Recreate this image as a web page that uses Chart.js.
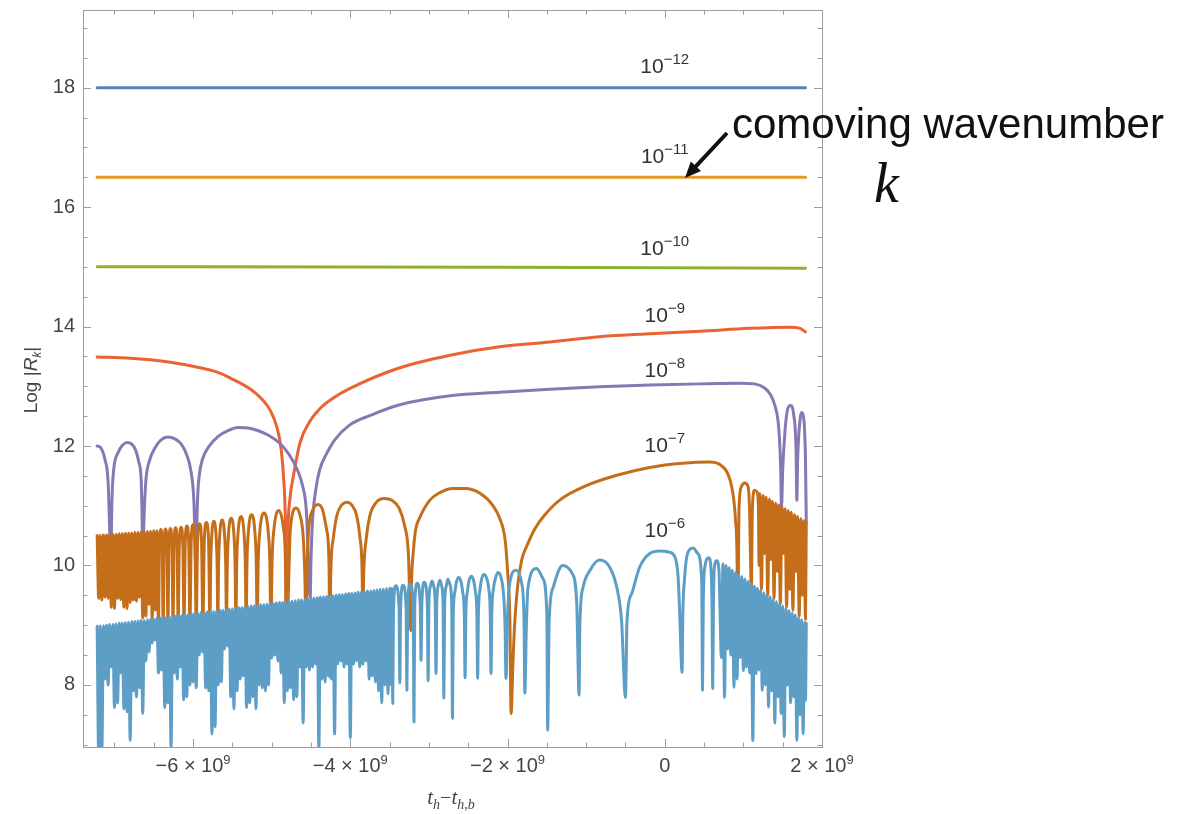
<!DOCTYPE html>
<html><head><meta charset="utf-8">
<script src="https://cdn.jsdelivr.net/npm/chart.js@4.4.1/dist/chart.umd.min.js"></script>
<style>html,body{margin:0;padding:0;background:#fff;}canvas{display:block;}</style>
</head><body>
<canvas id="c" width="1178" height="814"></canvas>
<script>
// x: t_h - t_{h,b} in units of 1e9 ; y: Log|R_k|
const kExponents = ['−12','−11','−10','−9','−8','−7','−6'];
const kLabelAnchors = [[0,18.25],[0,16.74],[0,15.20],[0,14.08],[0,13.16],[0,11.90],[0,10.48]];
const xTickValues = [-6,-4,-2,0,2];
const xTickLabels = [['−6 × 10','9'],['−4 × 10','9'],['−2 × 10','9'],['0',''],['2 × 10','9']];
const xMinorTicks = [-7,-6.5,-5.5,-5,-4.5,-3.5,-3,-2.5,-1.5,-1,-0.5,0.5,1,1.5];
const yTickValues = [8,10,12,14,16,18];
const yTickLabels = ['8','10','12','14','16','18'];
const yMinorTicks = [7,7.5,8.5,9,9.5,10.5,11,11.5,12.5,13,13.5,14.5,15,15.5,16.5,17,17.5,18.5,19];

const k12 = [[-7.22,18],[-4,18],[-1,18],[1.79,18]];
const k11 = [[-7.22,16.5],[-4,16.5],[-1,16.5],[1.79,16.5]];
const k10 = [[-7.22,15.0],[-4,14.998],[-2,14.993],[0,14.985],[1.79,14.975]];
const k9 = [[-7.22,13.49],[-6.80,13.47],[-6.33,13.41],[-5.91,13.31],[-5.70,13.24],[-5.53,13.14],[-5.21,12.89],[-5.02,12.60],[-4.93,12.30],[-4.88,11.95],[-4.85,11.50],[-4.825,10.7],[-4.81,9.0],[-4.795,10.5],[-4.77,11.09],[-4.73,11.45],[-4.64,12.05],[-4.52,12.40],[-4.39,12.62],[-4.22,12.80],[-4.01,12.96],[-3.37,13.31],[-2.73,13.52],[-2.10,13.66],[-1.46,13.74],[-0.83,13.83],[-0.19,13.88],[0.45,13.92],[1.08,13.97],[1.59,13.99],[1.72,13.97],[1.79,13.91]];
const k8 = [[-7.22,12.00],[-7.18,11.98],[-7.12,11.77],[-7.08,11.38],[-7.06,10.55],[-7.05,10.0],
[-7.03,11.17],[-7.01,11.60],[-6.95,11.90],[-6.90,12.01],[-6.84,12.06],[-6.78,12.03],[-6.73,11.93],[-6.69,11.73],[-6.66,11.43],[-6.65,10.93],[-6.64,10.2],
[-6.62,10.93],[-6.60,11.43],[-6.55,11.77],[-6.48,11.98],[-6.41,12.10],[-6.32,12.15],[-6.23,12.12],[-6.15,12.03],[-6.08,11.85],[-6.03,11.60],[-5.99,11.09],[-5.96,9.84],
[-5.95,10.76],[-5.94,11.20],[-5.92,11.52],[-5.88,11.78],[-5.80,11.99],[-5.68,12.16],[-5.55,12.26],[-5.43,12.31],[-5.30,12.30],[-5.18,12.26],[-5.04,12.18],[-4.90,12.05],[-4.78,11.86],[-4.68,11.62],[-4.61,11.35],[-4.56,10.93],[-4.51,9.47],
[-4.50,10.09],[-4.48,10.76],[-4.44,11.26],[-4.39,11.60],[-4.31,11.85],[-4.20,12.10],[-4.01,12.35],[-3.75,12.51],[-3.37,12.69],[-2.73,12.84],[-2.10,12.90],[-1.46,12.95],[-0.83,12.99],[-0.19,13.02],[0.45,13.04],[0.95,13.05],[1.14,13.04],[1.27,12.97],[1.35,12.85],[1.40,12.68],[1.44,12.43],[1.46,12.10],[1.475,11.60],[1.485,10.97],
[1.50,11.59],[1.53,12.26],[1.56,12.60],[1.60,12.68],[1.64,12.52],[1.67,11.93],[1.68,11.09],
[1.69,11.76],[1.72,12.43],[1.74,12.56],[1.77,12.43],[1.79,11.76],[1.80,10.71]];
const k7 = [[-7.22,10.50],[-7.20,9.45],[-7.18,10.50],[-7.16,9.42],[-7.14,10.51],[-7.12,9.47],[-7.10,10.51],[-7.08,9.45],[-7.06,10.51],[-7.04,9.30],[-7.02,10.52],[-7.00,9.28],[-6.98,10.52],[-6.96,9.45],[-6.94,10.53],[-6.92,9.43],[-6.90,10.53],[-6.88,9.30],[-6.86,10.54],[-6.84,9.28],[-6.82,10.54],[-6.80,9.38],[-6.78,10.54],[-6.76,9.42],[-6.74,10.55],[-6.72,9.40],[-6.70,10.55],[-6.68,9.47],[-6.66,10.56],[-6.64,9.12],[-6.62,10.56],[-6.60,9.15],[-6.58,10.57],[-6.56,9.35],[-6.54,10.57],[-6.52,9.12],[-6.50,10.58],[-6.48,9.25],[-6.46,10.58],
[-6.44,9.0],[-6.428,10.30],[-6.41,10.60],[-6.392,10.30],[-6.38,9.0],[-6.368,10.31],[-6.35,10.61],[-6.332,10.31],[-6.32,9.0],[-6.307,10.32],[-6.288,10.62],[-6.268,10.32],[-6.255,9.0],[-6.242,10.33],[-6.222,10.63],[-6.203,10.33],[-6.19,9.0],[-6.175,10.34],[-6.152,10.64],[-6.13,10.34],[-6.115,9.0],[-6.10,10.36],[-6.078,10.66],[-6.055,10.36],[-6.04,9.0],[-6.024,10.38],[-6.00,10.68],[-5.976,10.38],[-5.96,9.0],[-5.943,10.40],[-5.918,10.70],[-5.892,10.40],[-5.875,9.0],[-5.857,10.42],[-5.83,10.72],[-5.803,10.42],[-5.785,9.0],
[-5.777,9.94],[-5.765,10.44],[-5.735,10.74],[-5.705,10.44],[-5.693,9.94],[-5.685,9.0],[-5.676,9.96],[-5.663,10.46],[-5.63,10.76],[-5.597,10.46],[-5.584,9.96],[-5.575,9.0],[-5.565,9.99],[-5.551,10.49],[-5.515,10.79],[-5.479,10.49],[-5.465,9.99],[-5.455,9.0],[-5.445,10.02],[-5.429,10.52],[-5.39,10.82],[-5.351,10.52],[-5.335,10.02],[-5.325,9.0],[-5.314,10.05],[-5.297,10.55],[-5.255,10.85],[-5.213,10.55],[-5.196,10.05],[-5.185,9.0],[-5.171,10.08],[-5.15,10.58],[-5.098,10.88],[-5.045,10.58],[-5.024,10.08],[-5.01,9.0],[-4.994,10.12],[-4.97,10.62],[-4.91,10.92],[-4.85,10.62],[-4.826,10.12],[-4.81,8.24],
[-4.79,9.42],[-4.77,10.42],[-4.74,10.84],[-4.69,10.96],[-4.64,10.84],[-4.60,10.50],[-4.58,9.92],[-4.56,8.91],[-4.55,9.92],[-4.53,10.59],[-4.48,10.92],[-4.41,11.02],[-4.35,10.92],[-4.30,10.59],[-4.27,10.00],[-4.26,8.13],[-4.25,9.75],[-4.22,10.42],[-4.17,10.84],[-4.11,11.01],[-4.04,11.06],[-3.98,11.01],[-3.92,10.84],[-3.88,10.50],[-3.85,9.92],[-3.84,9.08],[-3.83,9.83],[-3.80,10.42],[-3.75,10.84],[-3.68,11.04],[-3.57,11.12],[-3.47,11.09],[-3.38,10.96],[-3.31,10.67],[-3.26,10.17],[-3.23,8.91],[-3.22,9.75],[-3.20,10.20],[-3.17,10.59],[-3.12,10.79],[-2.99,11.09],[-2.86,11.22],[-2.70,11.29],[-2.54,11.29],[-2.35,11.21],[-2.19,11.01],[-2.10,10.79],[-2.03,10.42],[-2.00,9.92],[-1.97,9.08],[-1.955,7.52],[-1.93,8.41],[-1.91,9.00],[-1.87,9.67],[-1.82,10.09],[-1.75,10.34],[-1.65,10.62],[-1.53,10.84],[-1.34,11.09],[-0.99,11.34],[-0.61,11.51],[-0.19,11.64],[0.23,11.71],[0.57,11.73],[0.70,11.69],[0.80,11.54],[0.86,11.26],[0.90,10.76],[0.92,10.09],[0.928,8.9],[0.945,10.98],[0.975,11.32],[1.017,11.38],[1.06,11.32],[1.08,10.87],[1.093,9.97],[1.10,9.5],[1.115,10.98],[1.144,11.26],[1.174,11.23],[1.191,10.98],[1.20,10.0],
[1.21,11.20],[1.23,9.6],[1.25,11.17],[1.27,10.2],[1.29,11.14],[1.31,9.5],[1.33,11.11],[1.35,10.1],[1.37,11.07],[1.39,9.45],[1.41,11.04],[1.43,9.9],[1.45,11.01],[1.47,9.35],[1.49,10.98],[1.51,10.2],[1.53,10.95],[1.55,9.3],[1.57,10.92],[1.59,9.6],[1.61,10.89],[1.63,9.25],[1.65,10.85],[1.67,9.9],[1.69,10.82],[1.71,9.15],[1.73,10.78],[1.75,9.5],[1.77,10.75],[1.79,9.1],[1.80,10.71]];
const k6 = [[-7.22,8.98],[-7.20,6.8],[-7.18,8.99],[-7.16,6.9],[-7.14,8.99],[-7.12,8.1],[-7.10,9.00],[-7.08,8.0],[-7.06,9.01],[-7.04,8.3],[-7.02,9.01],[-7.00,7.62],[-6.98,9.02],[-6.96,7.7],[-6.94,9.03],[-6.92,8.2],[-6.90,9.03],[-6.88,7.6],[-6.86,9.04],[-6.84,7.55],[-6.82,9.05],[-6.80,7.07],[-6.78,9.06],[-6.76,7.9],[-6.74,9.06],[-6.72,7.8],[-6.70,9.07],[-6.68,7.95],[-6.66,9.08],[-6.64,7.52],[-6.62,9.08],[-6.60,8.4],[-6.58,9.09],[-6.56,8.55],[-6.54,9.10],[-6.52,8.7],[-6.50,9.10],[-6.48,8.75],[-6.46,9.11],[-6.44,8.2],[-6.42,9.12],[-6.40,8.25],[-6.38,9.12],[-6.36,7.62],[-6.34,9.13],[-6.32,7.7],[-6.30,9.14],[-6.28,6.95],[-6.26,9.14],[-6.24,8.2],[-6.22,9.15],[-6.20,8.1],[-6.18,9.16],[-6.16,8.3],[-6.14,9.16],[-6.12,7.75],[-6.10,9.17],[-6.08,7.8],[-6.06,9.18],[-6.04,8.0],[-6.02,9.19],[-6.00,8.05],[-5.98,9.19],[-5.96,7.95],[-5.94,9.20],[-5.92,8.5],[-5.90,9.21],[-5.88,8.55],[-5.86,9.21],[-5.84,7.95],[-5.82,9.22],[-5.80,7.9],[-5.78,9.23],[-5.76,7.18],[-5.74,9.23],[-5.72,7.3],[-5.70,9.24],[-5.68,8.0],[-5.66,9.25],[-5.64,8.05],[-5.62,9.25],[-5.60,8.6],[-5.58,9.26],[-5.56,8.65],[-5.54,9.27],[-5.52,7.8],[-5.50,9.27],[-5.48,7.6],[-5.46,9.28],[-5.44,7.9],[-5.42,9.29],[-5.40,8.1],[-5.38,9.29],[-5.36,8.15],[-5.34,9.30],[-5.32,7.62],[-5.30,9.31],[-5.28,7.7],[-5.26,9.32],[-5.24,7.8],[-5.22,9.32],[-5.20,7.6],[-5.18,9.33],[-5.16,8.0],[-5.14,9.34],[-5.12,7.95],[-5.10,9.34],[-5.08,7.9],[-5.06,9.35],[-5.04,8.0],[-5.02,9.36],[-5.00,8.45],[-4.98,9.36],[-4.96,8.5],[-4.94,9.37],[-4.92,8.4],[-4.90,9.38],[-4.88,8.2],[-4.86,9.38],[-4.84,7.7],[-4.82,9.39],[-4.80,7.9],[-4.78,9.40],[-4.76,7.95],[-4.74,9.40],[-4.72,7.75],[-4.70,9.41],[-4.68,7.8],[-4.66,9.42],[-4.64,8.3],[-4.62,9.42],[-4.60,7.36],[-4.58,9.43],[-4.56,8.3],[-4.54,9.44],[-4.52,8.25],[-4.50,9.45],[-4.48,8.3],[-4.46,9.45],[-4.44,8.35],[-4.42,9.46],[-4.40,6.95],[-4.38,9.47],[-4.36,8.1],[-4.34,9.47],[-4.32,8.05],[-4.30,9.48],[-4.28,8.15],[-4.26,9.49],[-4.24,8.1],[-4.22,9.49],[-4.20,7.18],[-4.18,9.50],[-4.16,8.35],[-4.14,9.51],[-4.12,8.4],[-4.10,9.51],[-4.08,8.3],[-4.06,9.52],[-4.04,8.35],[-4.02,9.53],[-4.00,7.12],[-3.98,9.53],[-3.96,8.35],[-3.94,9.54],[-3.92,8.4],[-3.90,9.55],[-3.88,8.3],[-3.86,9.55],[-3.84,8.35],[-3.82,9.56],[-3.80,8.4],[-3.78,9.57],[-3.76,8.1],[-3.74,9.57],[-3.72,8.15],[-3.70,9.58],[-3.68,8.05],[-3.66,9.59],[-3.64,7.9],[-3.62,9.60],[-3.60,7.7],[-3.58,9.60],[-3.56,8.0],[-3.54,9.61],[-3.52,7.85],[-3.50,9.62],[-3.48,8.0],[-3.47,9.62],
[-3.46,7.69],[-3.45,9.30],[-3.42,9.66],[-3.38,9.30],[-3.37,8.03],[-3.36,9.30],[-3.33,9.67],[-3.29,9.30],[-3.28,7.91],[-3.27,9.32],[-3.24,9.69],[-3.20,9.32],[-3.19,7.38],[-3.18,9.33],[-3.15,9.70],[-3.11,9.33],[-3.10,8.41],[-3.09,9.35],[-3.06,9.72],[-3.02,9.35],[-3.01,8.07],
[-3.00,9.35],[-2.98,9.66],[-2.96,9.74],[-2.94,9.66],[-2.92,9.35],[-2.91,8.19],[-2.90,9.36],[-2.88,9.67],[-2.86,9.75],[-2.84,9.67],[-2.82,9.36],[-2.81,7.78],[-2.80,9.35],[-2.78,9.65],[-2.76,9.77],[-2.73,9.67],[-2.71,9.35],[-2.70,7.44],
[-2.69,9.2],[-2.67,9.55],[-2.65,9.72],[-2.62,9.80],[-2.59,9.72],[-2.57,9.55],[-2.55,9.2],[-2.54,8.12],[-2.53,9.2],[-2.51,9.57],[-2.49,9.74],[-2.46,9.82],[-2.43,9.74],[-2.41,9.57],[-2.39,9.2],[-2.38,8.11],[-2.37,9.2],[-2.35,9.6],[-2.33,9.77],[-2.30,9.85],[-2.27,9.80],[-2.24,9.62],[-2.22,9.2],[-2.21,8.19],[-2.20,9.2],[-2.18,9.6],[-2.15,9.8],[-2.12,9.88],[-2.09,9.83],[-2.06,9.64],[-2.04,9.3],[-2.03,8.9],[-2.02,8.11],
[-2.00,9.1],[-1.98,9.63],[-1.89,9.92],[-1.82,9.70],[-1.79,9.08],[-1.78,7.86],[-1.76,9.0],[-1.74,9.63],[-1.63,9.95],[-1.55,9.78],[-1.50,9.2],[-1.49,7.24],[-1.47,9.08],[-1.42,9.63],[-1.30,10.0],[-1.18,9.87],[-1.12,9.37],[-1.09,7.83],[-1.08,9.0],[-1.04,9.63],[-0.95,9.92],[-0.83,10.09],[-0.70,9.97],[-0.61,9.63],[-0.55,9.08],[-0.50,7.79],
[-0.48,9.08],[-0.42,9.53],[-0.32,9.97],[-0.19,10.2],[-0.06,10.24],[0.06,10.22],[0.13,10.14],[0.17,9.8],[0.19,9.2],[0.22,8.21],[0.23,9.2],[0.25,9.75],[0.29,10.2],[0.36,10.29],[0.42,10.2],[0.47,9.75],[0.48,7.91],[0.49,9.4],[0.51,9.97],[0.56,10.13],[0.59,9.9],[0.60,9.4],[0.61,7.94],[0.62,9.4],[0.63,9.95],[0.66,10.08],[0.69,9.9],[0.70,9.4],[0.72,8.46],
[0.74,10.03],[0.76,7.79],[0.78,10.00],[0.80,8.6],[0.82,9.96],[0.84,8.5],[0.86,9.92],[0.88,7.96],[0.90,9.88],[0.92,8.1],[0.94,9.84],[0.96,8.46],[0.98,9.81],[1.00,8.24],[1.02,9.77],[1.04,8.3],[1.06,9.73],[1.08,8.2],[1.10,9.69],[1.12,7.07],[1.14,9.65],[1.16,8.19],[1.18,9.62],[1.20,8.25],[1.22,9.58],[1.24,7.91],[1.26,9.54],[1.28,8.0],[1.30,9.50],[1.32,7.63],[1.34,9.47],[1.36,7.9],[1.38,9.43],[1.40,7.36],[1.42,9.39],[1.44,7.8],[1.46,9.35],[1.48,7.52],[1.50,9.32],[1.52,7.13],[1.54,9.28],[1.56,8.0],[1.58,9.24],[1.60,7.7],[1.62,9.20],[1.64,7.8],[1.66,9.17],[1.68,7.07],[1.70,9.13],[1.72,7.5],[1.74,9.09],[1.76,7.18],[1.78,9.05],[1.79,7.74],[1.80,9.03]];

const series = [k12,k11,k10,k9,k8,k7,k6];
const colors = ['#5E81B5','#E19C24','#8FB032','#EB6235','#8778B3','#C56E1A','#5D9EC7'];

const SANS = '"Liberation Sans", Arial, sans-serif';
const SERIF = '"Liberation Serif", "Times New Roman", serif';

function drawRuns(ctx, runs, cx, by, align) {
  let total = 0;
  runs.forEach(r => { ctx.font = r.f; r.w = ctx.measureText(r.t).width; total += r.w; });
  let x = align === 'center' ? cx - total/2 : (align === 'right' ? cx - total : cx);
  ctx.textAlign = 'left'; ctx.textBaseline = 'alphabetic';
  runs.forEach(r => { ctx.font = r.f; ctx.fillText(r.t, x, by + (r.dy||0)); x += r.w; });
}

const overlay = {
  id: 'overlay',
  afterDraw(chart) {
    const {ctx, chartArea: a, scales: {x, y}} = chart;
    ctx.save();
    ctx.strokeStyle = '#9d9d9d'; ctx.lineWidth = 1;
    ctx.strokeRect(Math.round(a.left)+0.5, Math.round(a.top)+0.5, Math.round(a.right-a.left), Math.round(a.bottom-a.top));
    ctx.beginPath();
    const xt = (v, len) => { const p = Math.round(x.getPixelForValue(v))+0.5;
      ctx.moveTo(p, a.bottom); ctx.lineTo(p, a.bottom-len); ctx.moveTo(p, a.top); ctx.lineTo(p, a.top+len); };
    const yt = (v, len) => { const p = Math.round(y.getPixelForValue(v))+0.5;
      ctx.moveTo(a.left, p); ctx.lineTo(a.left+len, p); ctx.moveTo(a.right, p); ctx.lineTo(a.right-len, p); };
    xTickValues.forEach(v => xt(v, 8)); xMinorTicks.forEach(v => xt(v, 4.5));
    yTickValues.forEach(v => yt(v, 8)); yMinorTicks.forEach(v => yt(v, 4.5));
    ctx.stroke();
    ctx.fillStyle = '#444';
    xTickValues.forEach((v, i) => {
      const [m, e] = xTickLabels[i];
      const runs = [{t: m, f: '20px ' + SANS}];
      if (e) runs.push({t: e, f: '13px ' + SANS, dy: -8});
      drawRuns(ctx, runs, x.getPixelForValue(v), 772, 'center');
    });
    yTickValues.forEach((v, i) => {
      ctx.font = '20px ' + SANS; ctx.textAlign = 'right'; ctx.textBaseline = 'middle';
      ctx.fillText(yTickLabels[i], a.left - 8, y.getPixelForValue(v));
    });
    drawRuns(ctx, [
      {t: 't', f: 'italic 21px ' + SERIF},
      {t: 'h', f: 'italic 14px ' + SERIF, dy: 5},
      {t: '−', f: '20px ' + SERIF},
      {t: 't', f: 'italic 21px ' + SERIF},
      {t: 'h,b', f: 'italic 14px ' + SERIF, dy: 5}
    ], 451, 804, 'center');
    ctx.save();
    ctx.translate(37, 380); ctx.rotate(-Math.PI/2);
    drawRuns(ctx, [
      {t: 'Log |', f: '19px ' + SANS},
      {t: 'R', f: 'italic 19px ' + SANS},
      {t: 'k', f: 'italic 12px ' + SANS, dy: 4},
      {t: '|', f: '19px ' + SANS}
    ], 0, 0, 'center');
    ctx.restore();
    ctx.fillStyle = '#333';
    kExponents.forEach((e, i) => {
      const [lx, ly] = kLabelAnchors[i];
      drawRuns(ctx, [{t: '10', f: '21px ' + SANS}, {t: e, f: '15px ' + SANS, dy: -9}],
        x.getPixelForValue(lx), y.getPixelForValue(ly), 'center');
    });
    ctx.fillStyle = '#111';
    ctx.font = '42px ' + SANS; ctx.textAlign = 'left'; ctx.textBaseline = 'alphabetic';
    ctx.fillText('comoving wavenumber', 732, 138);
    ctx.font = 'italic 56px ' + SERIF;
    ctx.fillText('k', 874, 202);
    const tx = 685, ty = 178, sx = 727, sy = 133;
    const dx = tx - sx, dy = ty - sy, L = Math.hypot(dx, dy), ux = dx/L, uy = dy/L;
    const hl = 16, hw = 7;
    ctx.strokeStyle = '#111'; ctx.lineWidth = 4; ctx.lineCap = 'butt';
    ctx.beginPath(); ctx.moveTo(sx, sy); ctx.lineTo(tx - ux*hl*0.8, ty - uy*hl*0.8); ctx.stroke();
    ctx.beginPath();
    ctx.moveTo(tx, ty);
    ctx.lineTo(tx - ux*hl - uy*hw, ty - uy*hl + ux*hw);
    ctx.lineTo(tx - ux*hl + uy*hw, ty - uy*hl - ux*hw);
    ctx.closePath(); ctx.fillStyle = '#111'; ctx.fill();
    ctx.restore();
  }
};

new Chart(document.getElementById('c'), {
  type: 'line',
  data: {
    datasets: series.map((s, i) => ({
      label: '10' + kExponents[i],
      data: s.map(([px, py]) => ({x: px, y: py})),
      borderColor: colors[i],
      borderWidth: 3,
      borderJoinStyle: 'round',
      borderCapStyle: 'round',
      pointRadius: 0,
      fill: false,
      cubicInterpolationMode: 'monotone',
      clip: 0,
      order: 7 - i
    }))
  },
  options: {
    responsive: false,
    animation: false,
    devicePixelRatio: 1,
    parsing: false,
    layout: {padding: {left: 83, top: 10, right: 356, bottom: 67}},
    plugins: {legend: {display: false}, tooltip: {enabled: false}},
    scales: {
      x: {type: 'linear', min: -7.4, max: 2.0, display: false},
      y: {type: 'linear', min: 6.96, max: 19.3, display: false}
    }
  },
  plugins: [overlay]
});
</script>
</body></html>
